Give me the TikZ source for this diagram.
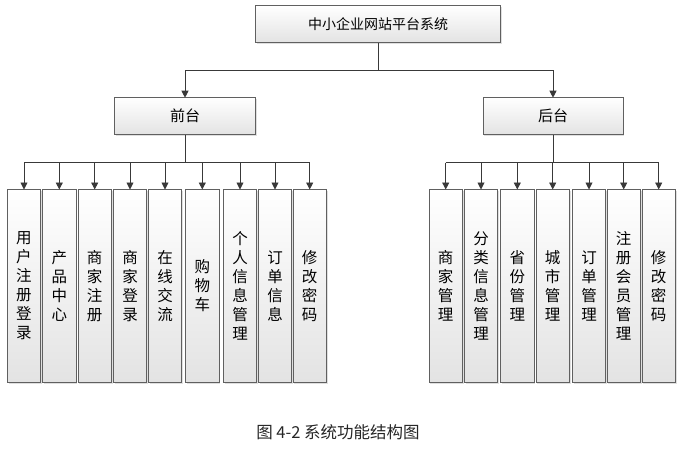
\documentclass[tikz,border=0pt]{standalone}
\usepackage{fontspec}
\newfontfamily\cjk{Noto Sans CJK SC}
\usetikzlibrary{arrows.meta,shadows}

\tikzset{
  box/.style={draw=gray!75!black,line width=0.7pt,top color=white,bottom color=gray!22,
    drop shadow={opacity=0.25,shadow xshift=1.2pt,shadow yshift=-1.2pt},
    inner sep=0pt,outer sep=0pt,font=\cjk\fontsize{14}{16}\selectfont},
  headbox/.style={box,minimum height=37pt},
  leafbox/.style={box,minimum width=33.4pt,minimum height=193pt,align=center,
    font=\cjk\fontsize{15.5}{19}\selectfont},
  bus/.style={draw=gray!45!black,line width=0.9pt},
  arr/.style={bus,-{Triangle[width=7pt,length=7pt]}},
}

\begin{document}
\begin{tikzpicture}[x=1pt,y=-1pt]
\useasboundingbox (0,0) rectangle (682,469);
% top levels
\node[headbox,minimum width=245pt] (sys) at (378.2,24) {中小企业网站平台系统};
\node[headbox,minimum width=141.4pt,font=\cjk\fontsize{15}{16}\selectfont] (front) at (185,116.2) {前台};
\node[headbox,minimum width=140pt,font=\cjk\fontsize{15}{16}\selectfont] (back) at (553,116.2) {后台};
\coordinate (sysbus) at (sys.south |- 0,70);
\draw[bus] (sys.south) -- (sysbus);
\draw[arr] (sysbus) -| (front.north);
\draw[arr] (sysbus) -| (back.north);
% front end modules
\node[leafbox] (f1) at (24,286) {用\\户\\注\\册\\登\\录};
\node[leafbox] (f2) at (59.3,286) {产\\品\\中\\心};
\node[leafbox] (f3) at (94.7,286) {商\\家\\注\\册};
\node[leafbox] (f4) at (130,286) {商\\家\\登\\录};
\node[leafbox] (f5) at (165,286) {在\\线\\交\\流};
\node[leafbox] (f6) at (202.3,286) {购\\物\\车};
\node[leafbox] (f7) at (240,286) {个\\人\\信\\息\\管\\理};
\node[leafbox] (f8) at (275,286) {订\\单\\信\\息};
\node[leafbox] (f9) at (309.7,286) {修\\改\\密\\码};
\coordinate (frontbus) at (front.south |- 0,162.5);
\draw[bus] (front.south) -- (frontbus);
\draw[bus] (f1.north |- frontbus) -- (f9.north |- frontbus);
\draw[arr] (f1.north |- frontbus) -- (f1.north);
\draw[arr] (f2.north |- frontbus) -- (f2.north);
\draw[arr] (f3.north |- frontbus) -- (f3.north);
\draw[arr] (f4.north |- frontbus) -- (f4.north);
\draw[arr] (f5.north |- frontbus) -- (f5.north);
\draw[arr] (f6.north |- frontbus) -- (f6.north);
\draw[arr] (f7.north |- frontbus) -- (f7.north);
\draw[arr] (f8.north |- frontbus) -- (f8.north);
\draw[arr] (f9.north |- frontbus) -- (f9.north);
% back end modules
\node[leafbox] (b1) at (445.7,286) {商\\家\\管\\理};
\node[leafbox] (b2) at (481,286) {分\\类\\信\\息\\管\\理};
\node[leafbox] (b3) at (517.3,286) {省\\份\\管\\理};
\node[leafbox] (b4) at (552.7,286) {城\\市\\管\\理};
\node[leafbox] (b5) at (589,286) {订\\单\\管\\理};
\node[leafbox] (b6) at (623.7,286) {注\\册\\会\\员\\管\\理};
\node[leafbox] (b7) at (658.7,286) {修\\改\\密\\码};
\coordinate (backbus) at (back.south |- 0,162.5);
\draw[bus] (back.south) -- (backbus);
\draw[bus] (b1.north |- backbus) -- (b7.north |- backbus);
\draw[arr] (b1.north |- backbus) -- (b1.north);
\draw[arr] (b2.north |- backbus) -- (b2.north);
\draw[arr] (b3.north |- backbus) -- (b3.north);
\draw[arr] (b4.north |- backbus) -- (b4.north);
\draw[arr] (b5.north |- backbus) -- (b5.north);
\draw[arr] (b6.north |- backbus) -- (b6.north);
\draw[arr] (b7.north |- backbus) -- (b7.north);
% caption
\node[font=\cjk\fontsize{16.5}{18}\selectfont,text=black!85] (cap) at (338,432) {图 4-2 系统功能结构图};
\end{tikzpicture}
\end{document}
